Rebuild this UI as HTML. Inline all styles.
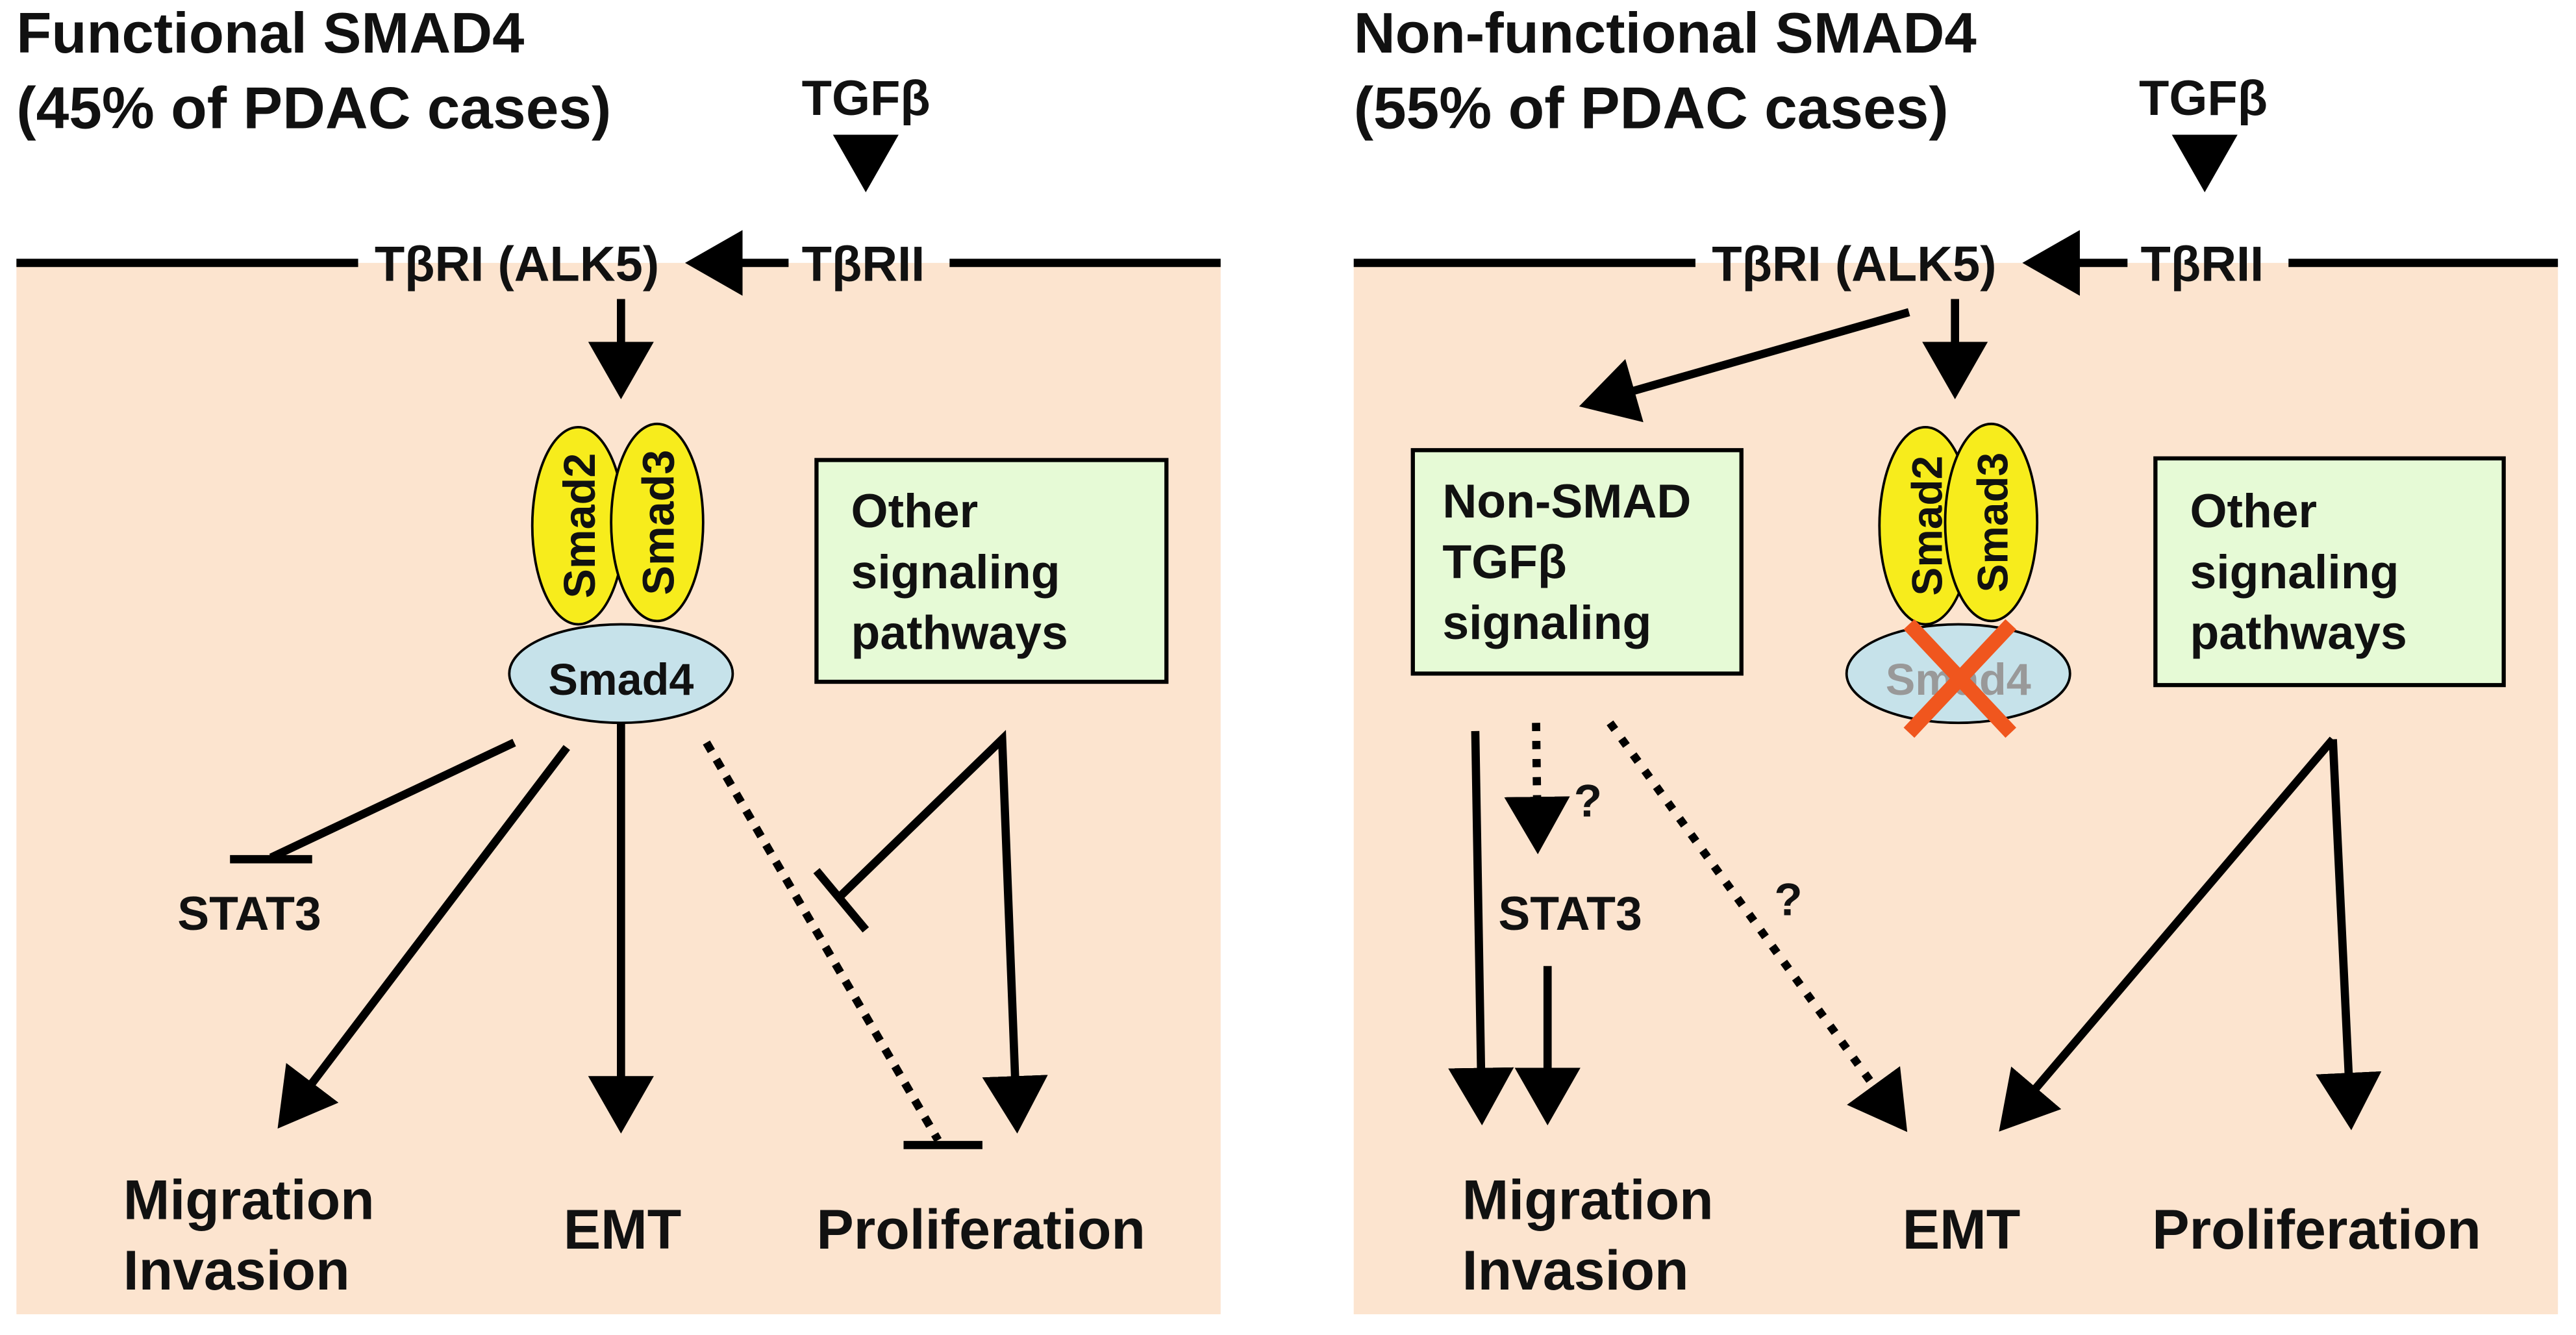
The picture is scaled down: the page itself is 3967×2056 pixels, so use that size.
<!DOCTYPE html>
<html><head><meta charset="utf-8"><style>
html,body{margin:0;padding:0;background:#fff}
svg{display:block}
text{font-family:"Liberation Sans",Arial,sans-serif;font-weight:bold;fill:#111}
</style></head><body>
<svg width="3967" height="2056" viewBox="0 0 1568 812.6" xmlns="http://www.w3.org/2000/svg">
<defs>
<marker id="a" markerWidth="8" markerHeight="8" refX="6" refY="4" orient="auto" markerUnits="strokeWidth"><path d="M0,0 L7,4 L0,8 z" fill="#000"/></marker>
</defs>
<rect width="1568" height="813" fill="#fff"/>
<rect x="10" y="160" width="733" height="640" fill="#fce4cf"/>
<rect x="824" y="160" width="733" height="640" fill="#fce4cf"/>
<g stroke="#000" stroke-width="5">
<line x1="10" y1="160" x2="218" y2="160"/><line x1="578" y1="160" x2="743" y2="160"/>
<line x1="824" y1="160" x2="1032" y2="160"/><line x1="1393" y1="160" x2="1557" y2="160"/>
</g>
<!-- Left -->
<text x="10" y="32" font-size="35">Functional SMAD4</text>
<text x="10" y="78" font-size="36">(45% of PDAC cases)</text>
<text x="488" y="70" font-size="30">TGFβ</text>
<text x="228" y="171" font-size="30">TβRI (ALK5)</text>
<text x="488" y="171" font-size="30">TβRII</text>
<g stroke="#000" stroke-width="5" fill="none">
<line x1="527" y1="88" x2="527" y2="112" marker-end="url(#a)"/>
<line x1="480" y1="160" x2="422" y2="160" marker-end="url(#a)"/>
<line x1="378" y1="182" x2="378" y2="238" marker-end="url(#a)"/>
</g>
<ellipse cx="378" cy="410" rx="68" ry="30" fill="#c6e2ea" stroke="#000" stroke-width="1.5"/>
<ellipse cx="352" cy="320" rx="28" ry="60" fill="#f7ec1c" stroke="#000" stroke-width="1.5"/>
<ellipse cx="400" cy="318" rx="28" ry="60" fill="#f7ec1c" stroke="#000" stroke-width="1.5"/>
<text transform="translate(362,320) rotate(-90)" font-size="27" text-anchor="middle">Smad2</text>
<text transform="translate(410,318) rotate(-90)" font-size="27" text-anchor="middle">Smad3</text>
<text x="378" y="423" font-size="27" text-anchor="middle">Smad4</text>
<rect x="497" y="280" width="213" height="135" fill="#e6fad6" stroke="#000" stroke-width="2.5"/>
<text x="518" y="321" font-size="29">Other</text>
<text x="518" y="358" font-size="29">signaling</text>
<text x="518" y="395" font-size="29">pathways</text>
<g stroke="#000" stroke-width="5" fill="none">
<line x1="313" y1="452" x2="165" y2="522"/><line x1="140" y1="523" x2="190" y2="523"/>
<line x1="345" y1="455" x2="172" y2="683" marker-end="url(#a)"/>
<line x1="378" y1="440" x2="378" y2="685" marker-end="url(#a)"/>
<line x1="430" y1="452" x2="571" y2="694" stroke-dasharray="6,6"/>
<line x1="550" y1="697" x2="598" y2="697"/>
<polyline points="512,545 610,450 619,685" marker-end="url(#a)"/>
<line x1="497" y1="530" x2="527" y2="566"/>
</g>
<text x="108" y="566" font-size="29">STAT3</text>
<text x="75" y="742" font-size="34">Migration</text>
<text x="75" y="785" font-size="34">Invasion</text>
<text x="343" y="760" font-size="34">EMT</text>
<text x="497" y="760" font-size="34">Proliferation</text>
<!-- Right -->
<text x="824" y="32" font-size="35">Non-functional SMAD4</text>
<text x="824" y="78" font-size="36">(55% of PDAC cases)</text>
<text x="1302" y="70" font-size="30">TGFβ</text>
<text x="1042" y="171" font-size="30">TβRI (ALK5)</text>
<text x="1303" y="171" font-size="30">TβRII</text>
<g stroke="#000" stroke-width="5" fill="none">
<line x1="1342" y1="88" x2="1342" y2="112" marker-end="url(#a)"/>
<line x1="1295" y1="160" x2="1236" y2="160" marker-end="url(#a)"/>
<line x1="1190" y1="182" x2="1190" y2="238" marker-end="url(#a)"/>
<line x1="1162" y1="190" x2="966" y2="246" marker-end="url(#a)"/>
</g>
<rect x="860" y="274" width="200" height="136" fill="#e6fad6" stroke="#000" stroke-width="2.5"/>
<text x="878" y="315" font-size="29">Non-SMAD</text>
<text x="878" y="352" font-size="29">TGFβ</text>
<text x="878" y="389" font-size="29">signaling</text>
<ellipse cx="1192" cy="410" rx="68" ry="30" fill="#c6e2ea" stroke="#000" stroke-width="1.5"/>
<text x="1192" y="423" font-size="27" text-anchor="middle" style="fill:#999">Smad4</text>
<ellipse cx="1172" cy="320" rx="28" ry="60" fill="#f7ec1c" stroke="#000" stroke-width="1.5"/>
<ellipse cx="1212" cy="318" rx="28" ry="60" fill="#f7ec1c" stroke="#000" stroke-width="1.5"/>
<text transform="translate(1182,320) rotate(-90)" font-size="26" text-anchor="middle">Smad2</text>
<text transform="translate(1222,318) rotate(-90)" font-size="26" text-anchor="middle">Smad3</text>
<g stroke="#f0561e" stroke-width="9"><line x1="1162" y1="380" x2="1224" y2="446"/><line x1="1224" y1="380" x2="1162" y2="446"/></g>
<rect x="1312" y="279" width="212" height="138" fill="#e6fad6" stroke="#000" stroke-width="2.5"/>
<text x="1333" y="321" font-size="29">Other</text>
<text x="1333" y="358" font-size="29">signaling</text>
<text x="1333" y="395" font-size="29">pathways</text>
<g stroke="#000" stroke-width="5" fill="none">
<line x1="898" y1="445" x2="902" y2="680" marker-end="url(#a)"/>
<line x1="935" y1="440" x2="936" y2="515" stroke-dasharray="5,6" marker-end="url(#a)"/>
<line x1="942" y1="588" x2="942" y2="680" marker-end="url(#a)"/>
<line x1="980" y1="440" x2="1158" y2="685" stroke-dasharray="5,7" marker-end="url(#a)"/>
<line x1="1420" y1="450" x2="1220" y2="685" marker-end="url(#a)"/>
<line x1="1420" y1="450" x2="1431" y2="683" marker-end="url(#a)"/>
</g>
<text x="958" y="497" font-size="28">?</text>
<text x="1080" y="557" font-size="28">?</text>
<text x="912" y="566" font-size="29">STAT3</text>
<text x="890" y="742" font-size="34">Migration</text>
<text x="890" y="785" font-size="34">Invasion</text>
<text x="1158" y="760" font-size="34">EMT</text>
<text x="1310" y="760" font-size="34">Proliferation</text>
</svg>
</body></html>
